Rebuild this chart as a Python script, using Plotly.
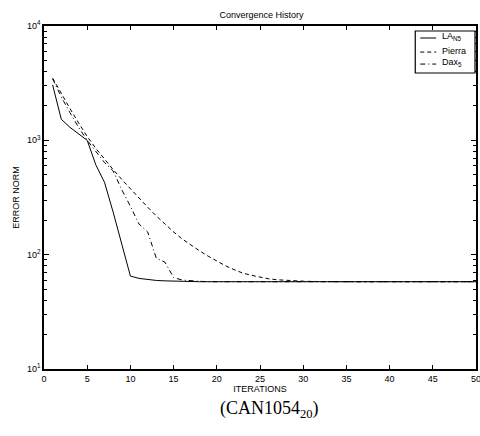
import plotly.graph_objects as go

iterations = list(range(1, 51))

la_n5 = [3050, 1530, 1300, 1140, 1000, 610, 430, 236, 121, 65,
         62, 60.5, 59.5, 59, 58.6, 58.3, 58, 58, 58, 58,
         58, 58, 58, 58, 58, 58, 58, 58, 58, 58,
         58, 58, 58, 58, 58, 58, 58, 58, 58, 58,
         58, 58, 58, 58, 58, 58, 58, 58, 58, 58]

pierra = [3500, 2550, 1900, 1420, 1080, 850, 680, 555, 455, 375,
          312, 260, 218, 184, 158, 137, 121, 108, 97, 88,
          80, 74, 69, 66, 63.5, 61.5, 60.3, 59.5, 59, 58.6,
          58.3, 58, 58, 58, 58, 58, 58, 58, 58, 58,
          58, 58, 58, 58, 58, 58, 58, 58, 58, 58]

dax5 = [3450, 2400, 1750, 1300, 1000, 790, 640, 540, 370, 265,
        185, 158, 93, 86, 63, 60, 59, 58.5, 58, 58,
        58, 58, 58, 58, 58, 58, 58, 58, 58, 58,
        58, 58, 58, 58, 58, 58, 58, 58, 58, 58,
        58, 58, 58, 58, 58, 58, 58, 58, 58, 58]

series_names = ["LA<sub>N5</sub>", "Pierra", "Dax<sub>5</sub>"]
series_dash = ["solid", "4px,3px", "5px,3px,1px,3px"]

x_ticks = [0, 5, 10, 15, 20, 25, 30, 35, 40, 45, 50]
y_ticks = [10, 100, 1000, 10000]
y_ticktext = ["10<sup>1</sup>", "10<sup>2</sup>", "10<sup>3</sup>", "10<sup>4</sup>"]
y_minor = [m * d for d in (10, 100, 1000) for m in range(2, 10)]

font_sans = "Liberation Sans, Arial, sans-serif"

fig = go.Figure()
for vals, name, dash in zip([la_n5, pierra, dax5], series_names, series_dash):
    fig.add_trace(go.Scatter(x=iterations, y=vals, mode="lines", name=name,
                             showlegend=False, hoverinfo="skip",
                             line=dict(color="black", width=1, dash=dash)))

# manual legend box (paper coordinates)
shapes = [dict(type="rect", xref="paper", yref="paper", x0=0.8594, x1=0.9977,
               y0=0.863, y1=0.9854, line=dict(color="black", width=1.2),
               fillcolor="white", layer="above")]
legend_rows = [0.965, 0.924, 0.889]
annotations = []
for name, dash, yy in zip(series_names, series_dash, legend_rows):
    shapes.append(dict(type="line", xref="paper", yref="paper", x0=0.871, x1=0.9078,
                       y0=yy, y1=yy, line=dict(color="black", width=1, dash=dash),
                       layer="above"))
    annotations.append(dict(text=name, xref="paper", yref="paper", x=0.916, y=yy + 0.004,
                            xanchor="left", yanchor="middle", showarrow=False,
                            font=dict(size=9, family=font_sans)))

# last x tick label (clipped at the right edge in the original)
annotations.append(dict(text=str(x_ticks[-1]), xref="x", yref="paper", x=x_ticks[-1], y=0,
                        xanchor="center", yanchor="top", yshift=-3, showarrow=False,
                        font=dict(size=9, family=font_sans)))

annotations.append(dict(text="(CAN1054<sub>20</sub>)", xref="paper", yref="paper",
                        x=0.523, y=-0.1195, xanchor="center", yanchor="middle",
                        showarrow=False,
                        font=dict(family="Liberation Serif, Times New Roman, serif", size=18)))

fig.update_layout(
    width=480, height=436,
    margin=dict(l=44, r=2, t=26, b=67),
    paper_bgcolor="white", plot_bgcolor="white",
    font=dict(family=font_sans, size=9, color="black"),
    title=dict(text="Convergence History", x=0.545, xanchor="center", y=0.966, yanchor="middle",
               font=dict(size=9, family=font_sans)),
    showlegend=False,
    hovermode=False,
    xaxis=dict(range=[0, 50], tickvals=x_ticks, ticks="inside", ticklen=4,
               tickcolor="black", showline=True, linecolor="black", linewidth=1.5,
               mirror="ticks", showgrid=False, zeroline=False,
               title=dict(text="ITERATIONS", font=dict(size=9), standoff=0),
               tickfont=dict(size=9)),
    yaxis=dict(type="log", range=[1, 4], tickvals=y_ticks, ticktext=y_ticktext,
               ticks="inside", ticklen=5, tickcolor="black",
               showline=True, linecolor="black", linewidth=1.5,
               mirror="ticks", showgrid=False, zeroline=False,
               minor=dict(tickvals=y_minor, ticks="inside", ticklen=3, tickcolor="black"),
               title=dict(text="ERROR NORM", font=dict(size=9), standoff=6),
               tickfont=dict(size=9)),
    shapes=shapes,
    annotations=annotations,
)

fig.write_html("out.html", config={"displayModeBar": False},
               post_script="document.body.style.margin='0px';document.body.style.overflow='hidden';")
